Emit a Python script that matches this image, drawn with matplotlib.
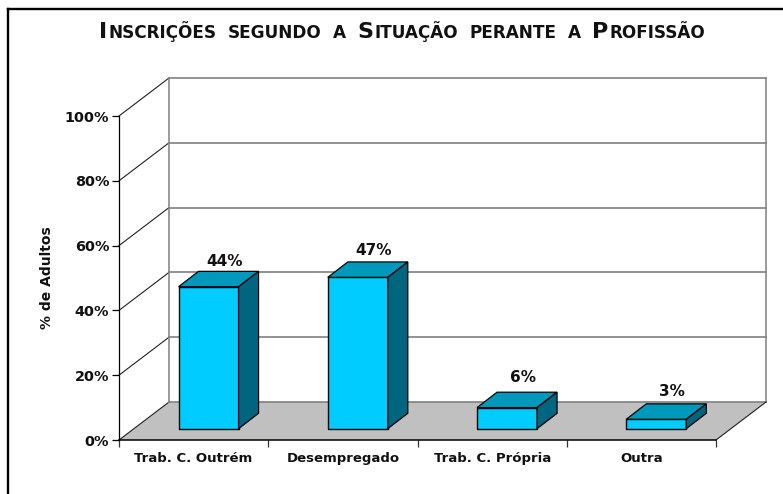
import matplotlib
matplotlib.use('Agg')
from matplotlib import pyplot as plt
from matplotlib.patches import Polygon

# * Data
categories = ['Trab. C. Outrém', 'Desempregado', 'Trab. C. Própria', 'Outra']
values = [43.8, 46.7, 6.5, 2.9]
value_labels = ['44%', '47%', '6%', '3%']
y_ticks = [0, 20, 40, 60, 80, 100]
y_tick_labels = ['0%', '20%', '40%', '60%', '80%', '100%']
title_words = ['Inscrições', 'segundo', 'a', 'Situação', 'perante', 'a', 'Profissão']

W, H = 783, 494
fig = plt.figure(figsize=(W / 100, H / 100), dpi=100)
plt.rcParams['font.family'] = ['DejaVu Sans']

# * Main axes covers the front plane of the 3D box
ax = fig.add_axes([119 / W, 1 - 440 / H, (716 - 119) / W, (440 - 116) / H])
ax.set_xlim(0, 4)
ax.set_ylim(0, 100)
ax.patch.set_visible(False)
for side in ['top', 'right']:
    ax.spines[side].set_visible(False)
ax.spines['left'].set_linewidth(0.9)
ax.spines['bottom'].set_linewidth(1.1)

# * Depth of the box and of the bars, in data units
depth_x, depth_y = 50 / 149.25, 38 / 3.24
base_x, base_y = 0.1, 3.5
bar_dx, bar_dy = 0.134, 4.75
bar_width = 0.402

# * Floor and walls
ax.add_patch(Polygon([(0, 0), (depth_x, depth_y), (4 + depth_x, depth_y), (4, 0)],
                     closed=True, facecolor='#c0c0c0', edgecolor='none', clip_on=False, zorder=1))
for t in y_ticks:
    ax.plot([0, depth_x], [t, t + depth_y], color='#202020', lw=0.8, clip_on=False, zorder=1.5)
    ax.plot([depth_x, 4 + depth_x], [t + depth_y, t + depth_y], color='#808080', lw=1.2,
            clip_on=False, zorder=1.5)
ax.plot([depth_x, depth_x], [depth_y, 100 + depth_y], color='#808080', lw=1.1, clip_on=False, zorder=1.5)
ax.plot([4 + depth_x, 4 + depth_x], [depth_y, 100 + depth_y], color='#808080', lw=1.1, clip_on=False, zorder=1.5)
ax.plot([4, 4 + depth_x], [0, depth_y], color='#202020', lw=0.8, clip_on=False, zorder=1.5)

# * Bars: front from ax.bar, then the top and side faces
centers = [i + 0.5 + base_x for i in range(len(values))]
ax.bar(centers, values, bar_width, bottom=base_y, color='#00ccff', edgecolor='black', lw=1, zorder=3)
nudges = [0.0, 0.5, 1.6, 1.0]
for c, v, lab, n in zip(centers, values, value_labels, nudges):
    left, right = c - bar_width / 2, c + bar_width / 2
    top = base_y + v
    ax.add_patch(Polygon([(left, top), (left + bar_dx, top + bar_dy), (right + bar_dx, top + bar_dy), (right, top)],
                         closed=True, facecolor='#0099bb', edgecolor='black', lw=0.9, zorder=3))
    ax.add_patch(Polygon([(right, base_y), (right + bar_dx, base_y + bar_dy), (right + bar_dx, top + bar_dy), (right, top)],
                         closed=True, facecolor='#006680', edgecolor='black', lw=0.9, zorder=3))
    ax.text(c + bar_dx / 2 + 0.04, top + bar_dy + 2.9 + n, lab, ha='center', va='center',
            fontsize=11, fontweight='bold', color='#111111', zorder=4)

# * Axis ticks and labels
ax.set_yticks(y_ticks)
ax.set_yticklabels(y_tick_labels, fontsize=10.4, fontweight='bold', color='#111111')
ax.tick_params(axis='y', length=5, width=0.9, pad=2)
ax.set_xticks(range(5))
ax.set_xticklabels([])
ax.tick_params(axis='x', which='major', length=5, width=0.9, color='#333333')
ax.set_xticks([i + 0.5 for i in range(4)], minor=True)
ax.set_xticklabels(categories, minor=True, fontsize=9.5, fontweight='bold', color='#111111')
ax.tick_params(axis='x', which='minor', length=0, pad=8.5)
fig.text(47 / W, 1 - 278 / H, '% de Adultos', rotation=90, ha='center', va='center',
         fontsize=10, fontweight='bold', color='#111111')

# * Outer frame has no right or bottom edge in the picture
fig.add_artist(plt.Line2D([8 / W, 8 / W], [0, 1 - 9 / H], color='black', lw=1.7))
fig.add_artist(plt.Line2D([8 / W, 1], [1 - 9 / H, 1 - 9 / H], color='black', lw=1.7))

# * Small caps title, one text per size, words spread over the title width
fig.canvas.draw()
renderer = fig.canvas.get_renderer()
words = []
total = 0
for word in title_words:
    parts = []
    if word[0].isupper():
        parts.append((word[0], 16))
        rest = word[1:]
    else:
        rest = word
    if rest:
        parts.append((rest.upper(), 12.2))
    row = []
    for s, size in parts:
        t = fig.text(0, 1 - 38 / H, s, fontsize=size, fontweight='bold', color='#111111',
                     ha='left', va='baseline')
        w = t.get_window_extent(renderer).width
        row.append((t, w))
        total += w + 1
    words.append(row)
x = 99
space = (706 - 99 - total) / (len(words) - 1)
for row in words:
    for t, w in row:
        t.set_x(x / W)
        x += w + 1
    x += space

fig.savefig('out.png', dpi=100, facecolor='white')
